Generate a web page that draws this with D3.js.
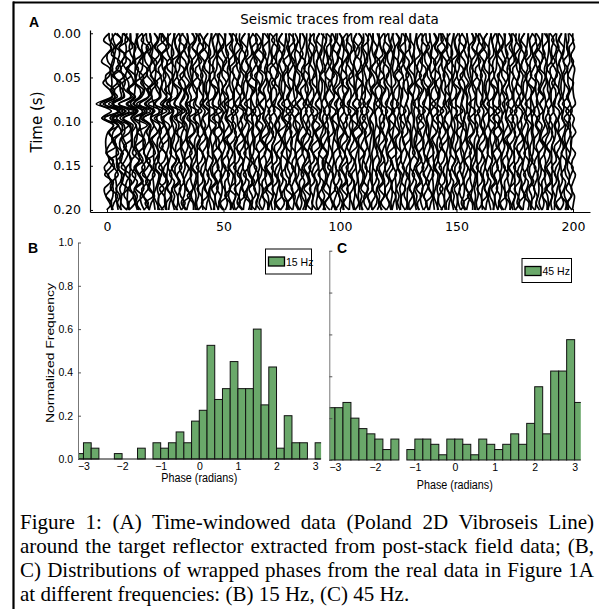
<!DOCTYPE html>
<html>
<head>
<meta charset="utf-8">
<script src="https://cdn.jsdelivr.net/npm/d3@7"></script>
<style>
  body { margin: 0; background: #fff; }
  svg { display: block; }
</style>
</head>
<body>
<div id="container"></div>
<script>
// ---- data ----
// panel A: trace numbers and sample times
const traceIds = d3.range(0, 201);
const traceTimes = [0, 0.008, 0.016, 0.024, 0.032, 0.04, 0.048, 0.056, 0.064, 0.072, 0.08, 0.088, 0.096,
  0.104, 0.112, 0.12, 0.128, 0.136, 0.144, 0.152, 0.16, 0.168, 0.176, 0.184, 0.192, 0.2];
// estimated wiggle shapes (amplitude in trace units), reused along the line
const wigglesMain = [
  [0.3,-0.8,0.9,-0.4,-1.1,0.6,1.0,-0.7,0.2,0.8,0.9,-1.2,0.6,0.4,0.9,-0.6,-0.9,0.7,0.3,-1.0,0.8,0.5,-0.7,0.1,0.9,-0.4],
  [-0.6,0.4,1.0,-0.9,0.2,0.7,-1.0,-0.3,0.9,-0.2,-1.1,0.8,0.7,-0.3,0.6,1.0,-0.8,-0.4,0.9,0.2,-0.9,0.6,0.8,-0.6,-0.5,0.7],
  [0.8,0.1,-0.9,0.6,0.9,-0.8,0.1,0.7,-0.6,0.9,0.4,1.0,-1.0,0.6,-0.4,0.3,1.0,-0.9,-0.2,0.8,-0.5,-0.8,0.7,0.9,-0.8,0.2],
  [-0.2,-0.9,0.7,0.8,-0.5,-0.9,0.8,0.5,-0.9,0.1,-0.9,-0.3,1.1,0.9,-0.9,-0.4,0.6,0.9,-0.9,-0.3,0.9,-0.2,-0.8,0.5,0.6,-0.9],
  [0.6,0.9,-0.4,-1.0,0.7,0.3,-0.6,1.0,-0.4,-0.8,1.0,-0.9,-0.4,0.2,1.0,-0.9,0.2,-0.6,0.8,0.6,-0.9,0.3,0.4,-0.9,0.8,0.5],
  [-0.9,0.5,0.3,0.9,-0.8,0.6,-0.9,-0.2,0.7,0.6,-1.2,0.9,-0.5,0.8,0.3,-0.9,-0.5,0.9,0.1,-0.7,0.5,1.0,-0.6,-0.3,0.2,0.9],
  [0.4,-0.5,-0.8,0.9,0.3,-1.0,0.5,-0.8,1.0,-0.6,0.6,-1.0,1.0,-0.2,0.8,0.5,-1.0,0.3,0.6,-0.9,0.1,0.7,-0.9,0.8,-0.2,-0.7],
  [-0.4,0.9,-0.7,0.2,1.0,-0.3,-0.8,0.9,0.3,-1.0,-0.7,1.1,-0.9,0.5,-1.0,0.8,0.4,-0.8,-0.6,1.0,-0.3,-0.6,0.9,-0.1,-0.9,0.6]
];
const wigglesMinor = [
  [0.5,-0.3,0.6,0.2,-0.7,0.4,-0.2,-0.6,0.7,0.3,-0.5,0.6,-0.4,0.7,-0.6,0.2,0.5,-0.7,0.4,0.1,-0.6,0.7,-0.2,-0.5,0.6,0.3],
  [-0.4,0.7,-0.1,-0.6,0.5,0.3,-0.7,0.6,-0.2,-0.4,0.6,-0.5,0.2,-0.7,0.6,-0.3,-0.2,0.6,-0.7,0.3,0.5,-0.4,-0.3,0.7,-0.6,0.1],
  [0.2,0.6,-0.7,0.4,-0.1,-0.6,0.7,-0.3,-0.5,0.7,-0.4,0.3,-0.6,0.2,0.4,-0.7,0.6,0.1,-0.5,-0.4,0.7,-0.2,0.5,-0.6,0.1,0.6],
  [-0.7,0.1,0.5,-0.4,0.6,-0.7,0.2,0.5,-0.6,0.4,0.7,-0.2,-0.3,-0.4,0.7,0.2,-0.6,0.5,0.3,-0.7,0.2,0.6,-0.7,0.4,0.3,-0.5],
  [0.6,-0.6,0.2,0.7,-0.5,-0.2,0.6,-0.7,0.4,-0.1,-0.5,0.4,0.6,-0.6,-0.2,0.7,-0.4,-0.3,0.7,-0.5,-0.2,0.6,-0.5,0.3,-0.7,0.4]
];
// coherent reflector seen on the first traces (added around 0.08-0.10 s)
const reflectorWavelet = [0, 0, 0, 0, 0, 0, 0, 0, 0, 0.4, -1.6, 1.2, -1.1, 0.6, 0, 0, 0, 0, 0, 0, 0, 0, 0, 0, 0, 0];
const reflectorGain = [1.0, 0.7, 0.45, 0.3, 0.2, 0.15, 0.1, 0.1, 0.1, 0.1, 0.1, 0.05, 0.05, 0.05, 0.1, 0.1, 0.1, 0.05, 0.05, 0.05, 0.05];
// gain for each block of 10 traces (left end is stronger)
const traceGain = [1.3, 1.15, 1.05, 1.0, 0.95, 0.95, 0.95, 0.95, 0.9, 0.9, 0.9, 0.85, 0.85, 0.85, 0.85, 0.85, 0.85, 0.85, 0.8, 0.8, 0.8];
const traceTicks = [0, 50, 100, 150, 200];
const timeTicks = [0, 0.05, 0.1, 0.15, 0.2];

// panels B and C: 32 bins of 0.2 rad starting at -3.2
const binStart = -3.2;
const binWidth = 0.2;
const phase15Hz = [0.025, 0.075, 0.05, 0, 0, 0.025, 0, 0, 0.05, 0, 0.075, 0.05, 0.075, 0.125, 0.075, 0.175,
  0.225, 0.525, 0.275, 0.325, 0.45, 0.325, 0.325, 0.6, 0.25, 0.425, 0.05, 0.2, 0.075, 0.075, 0, 0.075];
const phase45Hz = [0.25, 0.25, 0.275, 0.2, 0.15, 0.125, 0.1, 0.05, 0.1, 0, 0.05, 0.1, 0.1, 0.075, 0.025, 0.1,
  0.1, 0.075, 0.025, 0.1, 0.075, 0.05, 0.075, 0.125, 0.075, 0.175, 0.35, 0.125, 0.425, 0.425, 0.575, 0.275];
const phaseTicks = [-3, -2, -1, 0, 1, 2, 3];
const freqTicks = [0, 0.2, 0.4, 0.6, 0.8, 1.0];

const captionLines = [
  "Figure 1: (A) Time-windowed data (Poland 2D Vibroseis Line)",
  "around the target reflector extracted from post-stack field data; (B,",
  "C) Distributions of wrapped phases from the real data in Figure 1A",
  "at different frequencies: (B) 15 Hz, (C) 45 Hz."
];

// ---- drawing ----
const width = 599, height = 609;
const svg = d3.select("#container").append("svg")
  .attr("width", width)
  .attr("height", height);

const sans = "DejaVu Sans, sans-serif";
const narrow = "Liberation Sans Narrow, Liberation Sans, Arial, sans-serif";

// page frame
svg.append("line").attr("x1", 13).attr("x2", width).attr("y1", 2.5).attr("y2", 2.5)
  .attr("stroke", "#000").attr("stroke-width", 2.2);
svg.append("line").attr("x1", 13.5).attr("x2", 13.5).attr("y1", 1.5).attr("y2", height)
  .attr("stroke", "#000").attr("stroke-width", 2.2);

// ===== Panel A =====
const xA = d3.scaleLinear().domain([-7.3, 207.3]).range([90, 590]);
const yA = d3.scaleLinear().domain([-0.0037, 0.2023]).range([30, 212]);
const ampScale = 1.0;

const traceLine = d3.line()
  .x(d => xA(d[0]))
  .y(d => yA(d[1]))
  .curve(d3.curveCatmullRom);

const gA = svg.append("g");
gA.selectAll("path.trace")
  .data(traceIds)
  .enter().append("path")
  .attr("class", "trace")
  .attr("d", i => {
    const p = wigglesMain[i % wigglesMain.length];
    const q = wigglesMinor[Math.floor(i / 3) % wigglesMinor.length];
    const block = Math.floor(i / 10);
    const g = traceGain[block];
    const r = reflectorGain[block];
    return traceLine(traceTimes.map((t, k) =>
      [i + ampScale * (g * (p[k] + q[k]) + 2.2 * r * reflectorWavelet[k]), t]));
  })
  .attr("fill", "none")
  .attr("stroke", "#000")
  .attr("stroke-width", 1.7);

const axA_x = gA.append("g")
  .attr("transform", "translate(0,212)")
  .call(d3.axisBottom(xA).tickValues(traceTicks).tickSizeInner(-3).tickSizeOuter(0).tickPadding(10));
const axA_y = gA.append("g")
  .attr("transform", "translate(90,0)")
  .call(d3.axisLeft(yA).tickValues(timeTicks).tickFormat(d3.format(".2f")).tickSizeInner(-3).tickSizeOuter(0).tickPadding(9));
[axA_x, axA_y].forEach(a => {
  a.selectAll("text").attr("font-family", sans).attr("font-size", 12.5).attr("fill", "#000");
  a.select(".domain").attr("stroke", "#000").attr("stroke-width", 1.2);
  a.selectAll(".tick line").attr("stroke", "#000");
});

svg.append("text").attr("x", 339.5).attr("y", 23.5)
  .attr("text-anchor", "middle").attr("font-family", sans).attr("font-size", 13.5)
  .text("Seismic traces from real data");
svg.append("text")
  .attr("transform", "translate(42,122) rotate(-90)")
  .attr("text-anchor", "middle").attr("font-family", sans).attr("font-size", 15)
  .text("Time (s)");

// panel letters
const letters = [["A", 29, 27], ["B", 28, 253], ["C", 337, 253]];
svg.selectAll("text.letter")
  .data(letters)
  .enter().append("text")
  .attr("class", "letter")
  .attr("x", d => d[1]).attr("y", d => d[2])
  .attr("font-family", "Liberation Sans, Arial, sans-serif")
  .attr("font-weight", "bold").attr("font-size", 14)
  .text(d => d[0]);

// ===== Panels B and C =====
function histogram(cfg) {
  const x = d3.scaleLinear().domain([-Math.PI, Math.PI]).range(cfg.xr);
  const y = d3.scaleLinear().domain([0, 1]).range(cfg.yr);
  const g = svg.append("g");
  const clipId = "clip" + cfg.id;
  g.append("clipPath").attr("id", clipId)
    .append("rect").attr("x", cfg.xr[0]).attr("y", cfg.yr[1] - 5)
    .attr("width", cfg.xr[1] - cfg.xr[0] + 0.5).attr("height", cfg.yr[0] - cfg.yr[1] + 10);

  const bars = cfg.values.map((v, i) => ({ x0: binStart + i * binWidth, x1: binStart + (i + 1) * binWidth, v }));
  g.append("g").attr("clip-path", `url(#${clipId})`)
    .selectAll("rect")
    .data(bars.filter(d => d.v > 0))
    .enter().append("rect")
    .attr("x", d => x(d.x0))
    .attr("width", d => x(d.x1) - x(d.x0))
    .attr("y", d => y(d.v))
    .attr("height", d => y(0) - y(d.v))
    .attr("fill", "#6aa86a")
    .attr("stroke", "#111")
    .attr("stroke-width", 1);

  if (cfg.baseline) {
    g.append("line").attr("x1", cfg.xr[0]).attr("x2", cfg.xr[1])
      .attr("y1", y(0)).attr("y2", y(0)).attr("stroke", "#111").attr("stroke-width", 1);
  }

  const ay = g.append("g").attr("transform", `translate(${cfg.xr[0]},0)`)
    .call(d3.axisLeft(y).tickValues(freqTicks).tickSizeInner(-3).tickSizeOuter(0).tickPadding(5)
      .tickFormat(cfg.yLabels ? d3.format(".1f") : () => ""));
  ay.select(".domain").attr("stroke", "#777");
  ay.selectAll(".tick line").attr("stroke", "#555");
  ay.selectAll("text").attr("font-family", narrow).attr("font-size", 10.5).attr("fill", "#000");

  const ax = g.append("g").attr("transform", `translate(0,${cfg.yr[0]})`)
    .call(d3.axisBottom(x).tickValues(phaseTicks).tickSize(0).tickPadding(4)
      .tickFormat(d => d < 0 ? "\u2212" + Math.abs(d) : String(d)));
  ax.select(".domain").remove();
  ax.selectAll("text").attr("font-family", narrow).attr("font-size", 10.5).attr("fill", "#000");

  g.append("text").attr("x", x(0)).attr("y", cfg.xlabelY)
    .attr("text-anchor", "middle").attr("font-family", narrow).attr("font-size", 12)
    .attr("textLength", 76).attr("lengthAdjust", "spacingAndGlyphs")
    .text("Phase (radians)");

  // legend
  const L = cfg.legend;
  g.append("rect").attr("x", L.x).attr("y", L.y).attr("width", L.w).attr("height", L.h)
    .attr("fill", "#fff").attr("stroke", "#000").attr("stroke-width", 1);
  g.append("rect").attr("x", L.x + 3).attr("y", L.y + 8).attr("width", 16).attr("height", 9)
    .attr("fill", "#6aa86a").attr("stroke", "#000").attr("stroke-width", 1.3);
  g.append("text").attr("x", L.x + 20.5).attr("y", L.y + 16.5)
    .attr("font-family", narrow).attr("font-size", 10.5).text(L.label);
}

histogram({ id: "B", values: phase15Hz, xr: [78, 320.6], yr: [459, 242.5], yLabels: true, baseline: true,
  xlabelY: 482, legend: { x: 265.5, y: 249, w: 46, h: 25, label: "15 Hz" } });
histogram({ id: "C", values: phase45Hz, xr: [329.3, 580.3], yr: [460, 250.7], yLabels: false, baseline: false,
  xlabelY: 488.5, legend: { x: 522, y: 258.5, w: 49.5, h: 24, label: "45 Hz" } });

svg.append("text")
  .attr("transform", "translate(54,353) rotate(-90)")
  .attr("text-anchor", "middle").attr("font-family", narrow).attr("font-size", 11.5)
  .attr("textLength", 140).attr("lengthAdjust", "spacingAndGlyphs")
  .text("Normalized Frequency");

// ===== caption (justified with word spacing, last line ragged) =====
const captionWidth = 574;
svg.selectAll("text.caption")
  .data(captionLines)
  .enter().append("text")
  .attr("class", "caption")
  .attr("x", 20)
  .attr("y", (d, i) => 529 + i * 24)
  .attr("font-family", "Liberation Serif, Times New Roman, serif")
  .attr("font-size", 21)
  .text(d => d)
  .each(function (d, i) {
    if (i < captionLines.length - 1) {
      const natural = this.getComputedTextLength();
      const gaps = d.split(" ").length - 1;
      d3.select(this).attr("word-spacing", (captionWidth - natural) / gaps);
    }
  });
</script>
</body>
</html>
